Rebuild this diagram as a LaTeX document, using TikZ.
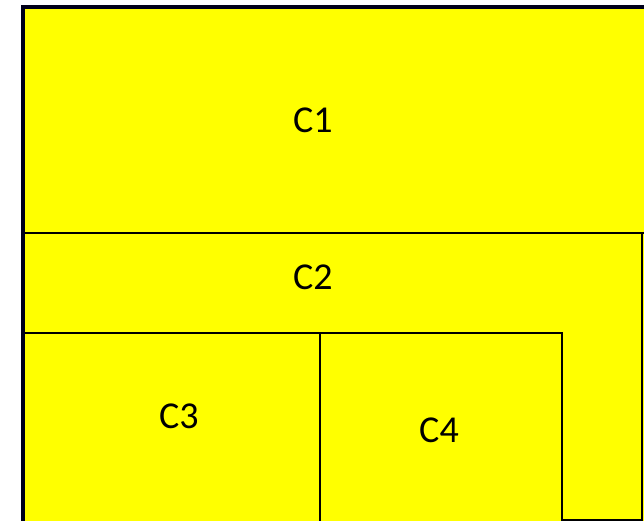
\documentclass[tikz,border=0pt]{standalone}
\usepackage{fontspec}
\setmainfont{Carlito}
\definecolor{roomyellow}{RGB}{255,255,0}
\tikzset{wall/.style={draw=black,line width=1.6pt,line cap=rect},
  outer/.style={draw=black!90!blue,line width=4pt},
  lbl/.style={font=\fontsize{38}{44}\selectfont,inner sep=0pt}}

\begin{document}
\begin{tikzpicture}[x=1pt,y=-1pt]
\useasboundingbox (0,0) rectangle (644,521);
\begin{scope}
\clip (0,0) rectangle (644,521);
\fill[roomyellow] (22,7) rectangle (648,525);
% inner walls
\draw[wall] (22,233) -- (644,233);
\draw[wall] (22,333) -- (562,333);
\draw[wall] (320,333) -- (320,525);
\draw[wall] (562,333) -- (562,525);
\draw[wall] (642,233) -- (642,525);
\draw[wall] (562,520) -- (642,520);
% outer frame
\draw[outer] (22.5,525) -- (22.5,7.5) -- (648,7.5);
\end{scope}
\node[lbl] (c1) at (313,120) {C1};
\node[lbl] (c2) at (313,277) {C2};
\node[lbl] (c3) at (179,416) {C3};
\node[lbl] (c4) at (439,430) {C4};
\end{tikzpicture}
\end{document}
